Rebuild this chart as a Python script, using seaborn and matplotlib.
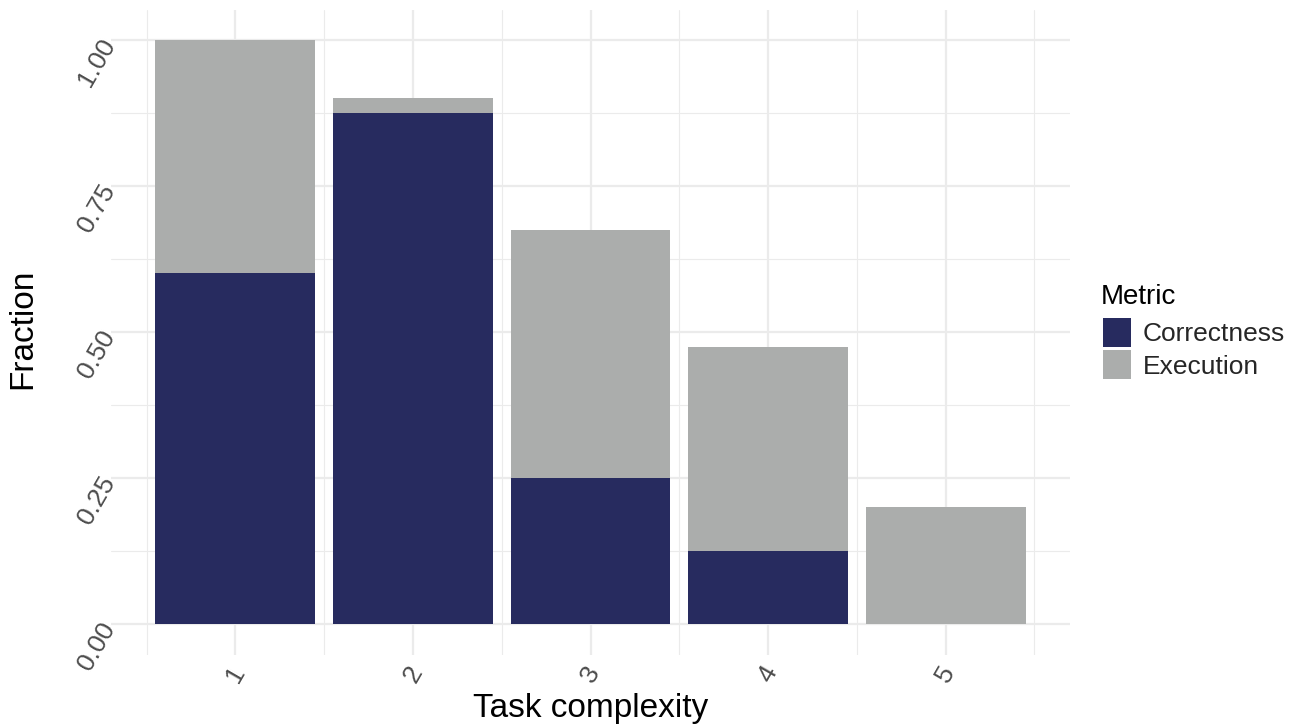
import matplotlib
matplotlib.use("Agg")
import matplotlib.pyplot as plt
from matplotlib.patches import Patch
from matplotlib.ticker import MultipleLocator, FormatStrFormatter
import pandas as pd
import seaborn as sns

complexity = ["1", "2", "3", "4", "5"]
execution = [1.0, 0.9, 0.675, 0.475, 0.2]
correctness = [0.6, 0.875, 0.25, 0.125, 0.0]

metric_colors = {"Correctness": "#272B5F", "Execution": "#ABADAC"}

df = pd.DataFrame({
    "Task complexity": complexity * 2,
    "Fraction": execution + correctness,
    "Metric": ["Execution"] * 5 + ["Correctness"] * 5,
})

sns.set_theme(style="whitegrid")
plt.rcParams["font.family"] = ["Liberation Sans", "DejaVu Sans"]

W, H = 1303, 727
fig = plt.figure(figsize=(W / 100, H / 100), dpi=100)
ax = fig.add_axes([111 / W, 1 - 655 / H, (1070 - 111) / W, (655 - 10) / H])

# execution drawn first so correctness sits on top of it
sns.barplot(data=df, x="Task complexity", y="Fraction", hue="Metric",
            hue_order=["Execution", "Correctness"], palette=metric_colors,
            dodge=False, width=0.9, linewidth=0, saturation=1, legend=False, ax=ax)

ax.set_xlim(-0.7, 4.7)
ax.set_ylim(-0.053, 1.051)
ax.yaxis.set_major_locator(MultipleLocator(0.25))
ax.yaxis.set_minor_locator(MultipleLocator(0.125))
ax.xaxis.set_minor_locator(MultipleLocator(1, offset=0.5))
ax.yaxis.set_major_formatter(FormatStrFormatter("%.2f"))

ax.grid(True, which="major", color="#EBEBEB", linewidth=1.6)
ax.grid(True, which="minor", color="#EBEBEB", linewidth=0.8)
ax.set_axisbelow(True)
for s in ax.spines.values():
    s.set_visible(False)
ax.set_facecolor("white")

ax.tick_params(axis="both", which="both", length=0, labelsize=19, labelcolor="#4D4D4D")
ax.tick_params(axis="x", pad=5)
ax.tick_params(axis="y", pad=1)
for lab in ax.get_xticklabels():
    lab.set_rotation(60)
    lab.set_ha("center")
    lab.set_va("top")
for lab in ax.get_yticklabels():
    lab.set_rotation(60)
    lab.set_rotation_mode("anchor")
    lab.set_ha("right")
    lab.set_va("center")

ax.set_xlabel("Task complexity", fontsize=24, color="black")
ax.set_ylabel("Fraction", fontsize=24, color="black")
ax.xaxis.set_label_coords(0.5, (655 - 693) / 645)
ax.yaxis.set_label_coords((38 - 111) / 959, 0.505)

fig.text(1101 / W, 1 - 297 / H, "Metric", fontsize=20, color="black",
         ha="left", va="center")
handles = [Patch(facecolor=metric_colors[m], edgecolor="none") for m in ["Correctness", "Execution"]]
leg = fig.legend(handles, ["Correctness", "Execution"],
                 loc="upper left", bbox_to_anchor=(1103 / W, 1 - 318 / H),
                 frameon=False, fontsize=19,
                 handlelength=1.07, handleheight=1.3, handletextpad=0.45,
                 labelspacing=0.14, borderaxespad=0, borderpad=0)

fig.savefig("out.png", dpi=100)
